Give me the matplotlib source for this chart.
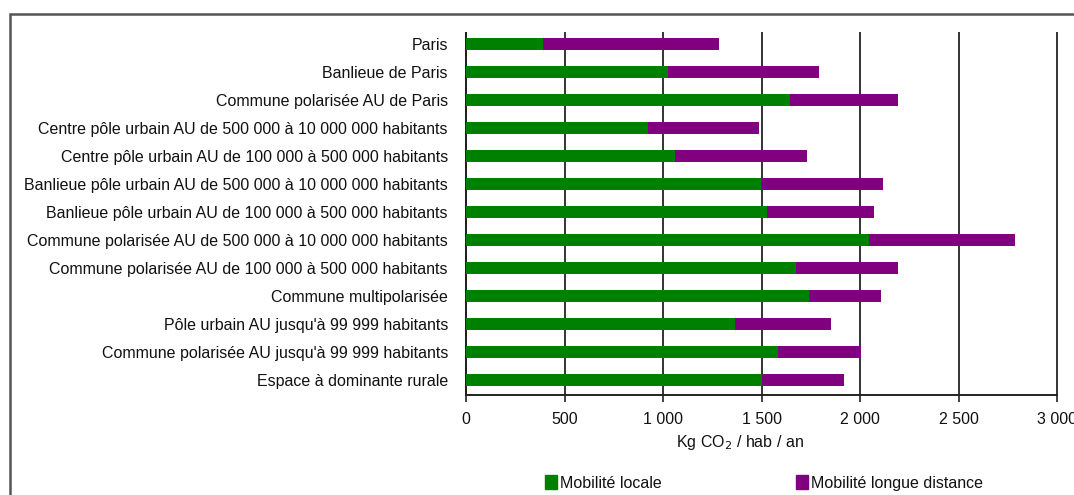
import matplotlib
matplotlib.use("Agg")
import matplotlib.pyplot as plt
from matplotlib.patches import Rectangle, Patch
import numpy as np

categories = [
    "Paris",
    "Banlieue de Paris",
    "Commune polarisée AU de Paris",
    "Centre pôle urbain AU de 500 000 à 10 000 000 habitants",
    "Centre pôle urbain AU de 100 000 à 500 000 habitants",
    "Banlieue pôle urbain AU de 500 000 à 10 000 000 habitants",
    "Banlieue pôle urbain AU de 100 000 à 500 000 habitants",
    "Commune polarisée AU de 500 000 à 10 000 000 habitants",
    "Commune polarisée AU de 100 000 à 500 000 habitants",
    "Commune multipolarisée",
    "Pôle urbain AU jusqu'à 99 999 habitants",
    "Commune polarisée AU jusqu'à 99 999 habitants",
    "Espace à dominante rurale",
]
mobilite_locale = [390, 1023, 1647, 924, 1060, 1495, 1530, 2045, 1674, 1739, 1368, 1583, 1503]
mobilite_longue = [895, 768, 544, 561, 669, 624, 542, 741, 517, 370, 486, 423, 415]
xticks = [0, 500, 1000, 1500, 2000, 2500, 3000]
xtick_labels = ["0", "500", "1 000", "1 500", "2 000", "2 500", "3 000"]
series_names = ["Mobilité locale", "Mobilité longue distance"]

GREEN = "#008000"
PURPLE = "#800080"
TXT = "#111111"

plt.rcParams["font.family"] = ["Liberation Sans", "DejaVu Sans"]

W, H = 1074, 495
fig = plt.figure(figsize=(W / 100, H / 100), dpi=100)
ax = fig.add_axes([466 / W, 1 - 395 / H, (1057 - 466) / W, (395 - 33) / H])

y = np.arange(len(categories))
ax.barh(y, mobilite_locale, height=0.42, color=GREEN, zorder=3, label=series_names[0])
ax.barh(y, mobilite_longue, left=mobilite_locale, height=0.42, color=PURPLE, zorder=3,
        label=series_names[1])

ax.set_xlim(0, 3000)
ax.set_ylim(12.54, -0.39)
ax.set_yticks(y)
ax.set_yticklabels(categories, fontsize=11.5, color=TXT)
ax.tick_params(axis="y", length=0, pad=13)
ax.set_xticks(xticks)
ax.set_xticklabels(xtick_labels, fontsize=11.5, color=TXT)
ax.tick_params(axis="x", length=5, width=1.2, color="#222222", pad=7, direction="out")

ax.grid(axis="x", color="#333333", linewidth=1.4, zorder=1)
for gl in ax.get_xgridlines():
    gl.set_clip_on(False)
for s in ["top", "right"]:
    ax.spines[s].set_visible(False)
ax.spines["left"].set_color("#222222")
ax.spines["left"].set_linewidth(1.4)
ax.spines["bottom"].set_color("#222222")
ax.spines["bottom"].set_linewidth(1.4)

ax.set_xlabel("Kg CO$_2$ / hab / an", fontsize=11.5, color=TXT)
ax.xaxis.set_label_coords((740 - 466) / (1057 - 466), -(443 - 395) / (395 - 33))
ax.xaxis.label.set_va("center")

handles = [Patch(color=GREEN), Patch(color=PURPLE)]
fig.legend(handles, series_names, loc="center left", ncol=2, frameon=False,
           bbox_to_anchor=(545 / W, 1 - 483 / H), fontsize=11.5, handlelength=0.75,
           handleheight=0.9, handletextpad=0.2, columnspacing=8.4, labelcolor=TXT,
           borderpad=0, borderaxespad=0)

fig.add_artist(Rectangle((10 / W, -0.2), 1.2, 1.2 - 14 / H, transform=fig.transFigure,
                         fill=False, edgecolor="#555555", linewidth=1.8))

fig.savefig("out.png", dpi=100)
